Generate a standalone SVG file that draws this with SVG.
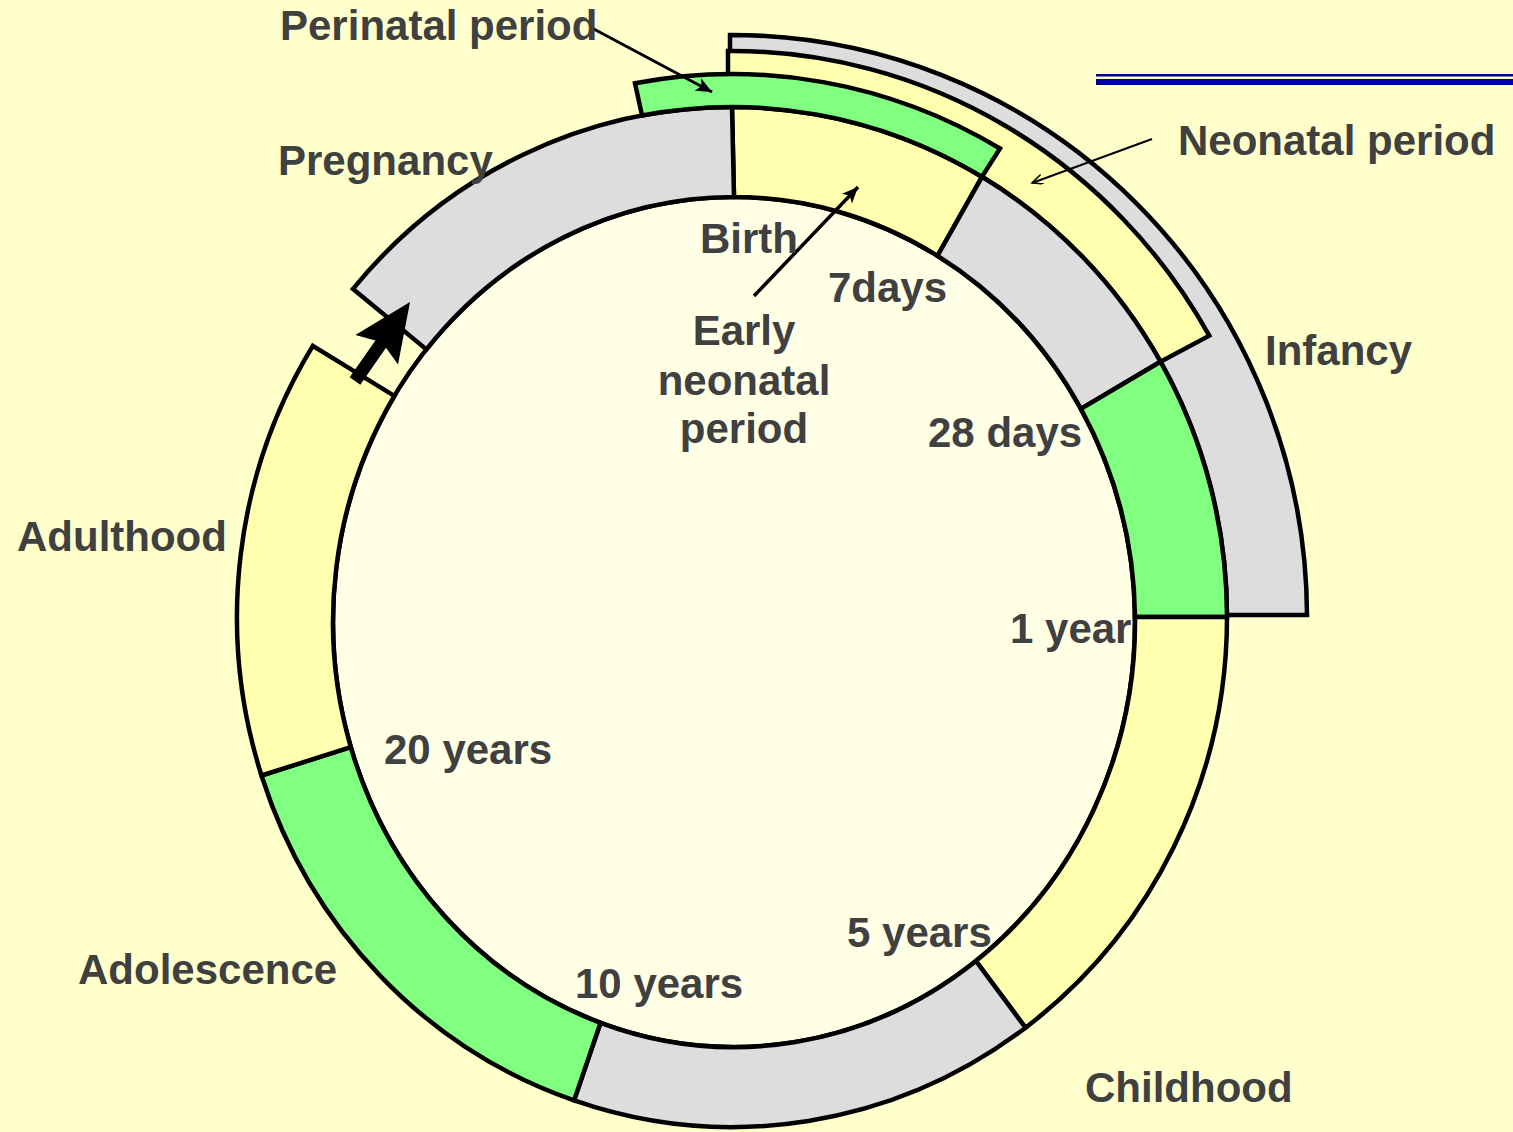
<svg xmlns="http://www.w3.org/2000/svg" width="1513" height="1132" viewBox="0 0 1513 1132">
<style>
.seg{stroke:#000;stroke-width:4.5;stroke-linejoin:miter}
.y{fill:#FFFFAF}
.g{fill:#DDDDDD}
.gr{fill:#80FF80}
.t{font-family:"Liberation Sans",Arial,sans-serif;font-weight:bold;font-size:42px;fill:#404040}
.lead{stroke:#000;fill:none}
</style>
<defs>
<marker id="ah" markerUnits="userSpaceOnUse" markerWidth="20" markerHeight="16" refX="16" refY="7" orient="auto">
<path d="M0,0 L16,7 L0,14 L4,7 Z" fill="#000"/>
</marker>
<marker id="ahThin" markerUnits="userSpaceOnUse" markerWidth="14" markerHeight="12" refX="11" refY="5" orient="auto">
<path d="M0,0 L11,5 L0,10" fill="none" stroke="#000" stroke-width="1.5"/>
</marker>
</defs>
<rect x="0" y="0" width="1513" height="1132" fill="#FFFFCC"/>
<g id="title-rule">
<rect x="1096" y="74" width="417" height="2.5" fill="#000099"/>
<rect x="1096" y="79" width="417" height="6" fill="#000099"/>
</g>
<g id="inner-circle">
<ellipse cx="734" cy="622" rx="401" ry="425" fill="#FFFFE6" stroke="#000" stroke-width="4.5"/>
</g>
<g id="infancy-band">
<path class="seg g" d="M730,35 A575,582 0 0 1 1307,615 L1227,615 A495,510 0 0 0 730,107 Z"/>
</g>
<g id="neonatal-band">
<path class="seg y" d="M728,51 A550,566 0 0 1 1209.3,335.7 L1160.5,361.7 A495,510 0 0 0 728,107 Z"/>
</g>
<g id="seg-birth-7days">
<path class="seg y" d="M732,107 A495,510 0 0 1 982,176.8 L937.5,255.8 A401,425 0 0 0 734,197 Z"/>
</g>
<g id="seg-7days-28days">
<path class="seg g" d="M982,176.8 A495,510 0 0 1 1160.5,361.7 L1080.9,408.9 A401,425 0 0 0 937.5,255.8 Z"/>
</g>
<g id="seg-28days-1year">
<path class="seg gr" d="M1160.5,361.7 A495,510 0 0 1 1227,617 L1135,617 A401,425 0 0 0 1080.9,408.9 Z"/>
</g>
<g id="seg-1year-5years">
<path class="seg y" d="M1227,617 A495,510 0 0 1 1025.5,1027.7 L975.9,961 A401,425 0 0 0 1135,617 Z"/>
</g>
<g id="seg-5years-10years">
<path class="seg g" d="M1025.5,1027.7 A495,510 0 0 1 574.1,1100.4 L600.5,1022.8 A401,425 0 0 0 975.9,961 Z"/>
</g>
<g id="seg-adolescence">
<path class="seg gr" d="M574.1,1100.4 A495,510 0 0 1 261.5,775.5 L350.8,747.1 A401,425 0 0 0 600.5,1022.8 Z"/>
</g>
<g id="seg-adulthood">
<path class="seg y" d="M261.5,775.5 A495,510 0 0 1 312.8,345.8 L394.4,395.9 A401,425 0 0 0 350.8,747.1 Z"/>
</g>
<g id="seg-pregnancy">
<path class="seg g" d="M353,288.9 A495,510 0 0 1 732,107 L734,197 A401,425 0 0 0 426.4,349.4 Z"/>
</g>
<g id="perinatal-band">
<path class="seg gr" d="M635,83.2 A530,543 0 0 1 1000,148.5 L982,176.8 A495,510 0 0 0 642,115.5 Z"/>
</g>
<g id="connectors">
<line class="lead" x1="590" y1="27" x2="712" y2="92" stroke-width="3" marker-end="url(#ah)"/>
<line class="lead" x1="1152" y1="139" x2="1032" y2="183" stroke-width="2" marker-end="url(#ahThin)"/>
<line class="lead" x1="754" y1="296" x2="858" y2="187" stroke-width="3.5" marker-end="url(#ah)"/>
<polygon points="349.7,377.3 375.4,340.4 355.4,335 410,302 398,364.6 386,347.8 360.3,384.7" fill="#000"/>
</g>
<g id="labels">
<text class="t" x="280" y="40">Perinatal period</text>
<text class="t" x="1178" y="155">Neonatal period</text>
<text class="t" x="278" y="175">Pregnancy</text>
<text class="t" x="700" y="253">Birth</text>
<text class="t" x="828" y="302">7days</text>
<text class="t" x="744" y="345" text-anchor="middle">Early</text>
<text class="t" x="744" y="395" text-anchor="middle">neonatal</text>
<text class="t" x="744" y="443" text-anchor="middle">period</text>
<text class="t" x="928" y="447">28 days</text>
<text class="t" x="1265" y="365">Infancy</text>
<text class="t" x="17" y="551">Adulthood</text>
<text class="t" x="1010" y="643">1 year</text>
<text class="t" x="384" y="764">20 years</text>
<text class="t" x="78" y="984">Adolescence</text>
<text class="t" x="847" y="947">5 years</text>
<text class="t" x="575" y="998">10 years</text>
<text class="t" x="1085" y="1102">Childhood</text>
</g>
</svg>
